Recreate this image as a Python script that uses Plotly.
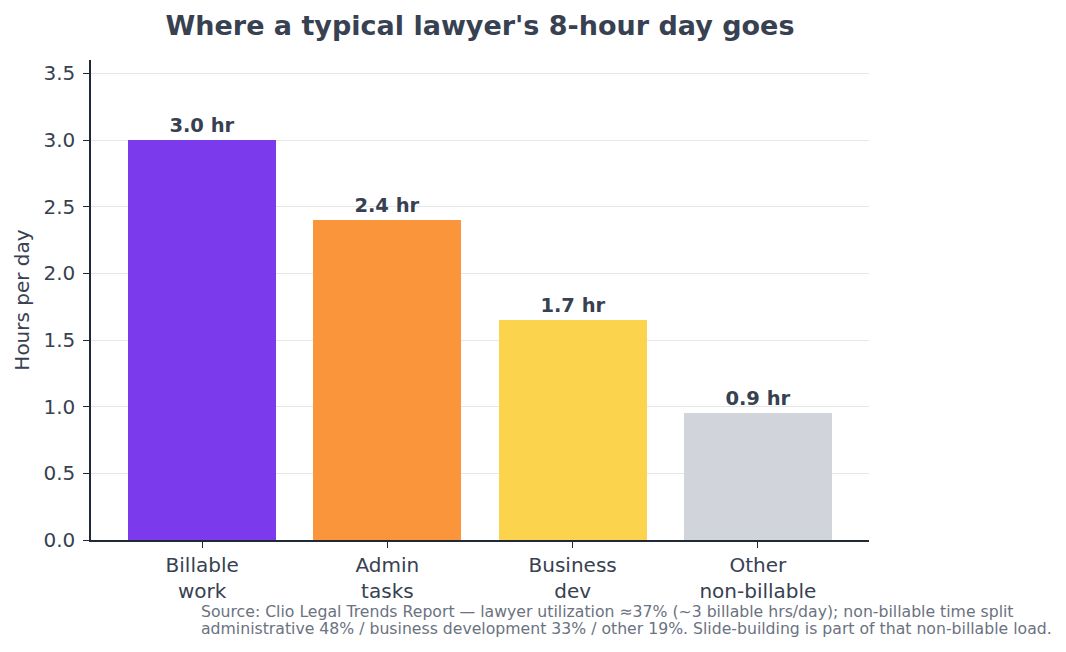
import plotly.graph_objects as go

categories = ["Billable<br>work", "Admin<br>tasks", "Business<br>dev", "Other<br>non-billable"]
hours = [3.0, 2.4, 1.65, 0.95]
bar_labels = ["3.0 hr", "2.4 hr", "1.7 hr", "0.9 hr"]
colors = ["#7c3aed", "#fb953c", "#fcd34d", "#d1d5db"]
y_ticks = [0.0, 0.5, 1.0, 1.5, 2.0, 2.5, 3.0, 3.5]
source_lines = [
    "Source: Clio Legal Trends Report — lawyer utilization ≈37% (~3 billable hrs/day); non-billable time split",
    "administrative 48% / business development 33% / other 19%. Slide-building is part of that non-billable load.",
]

FONT = "DejaVu Sans"
DARK = "#374151"
AXIS = "#1f2937"

fig = go.Figure(go.Bar(
    x=list(range(len(categories))),
    y=hours,
    width=0.8,
    marker=dict(color=colors, line=dict(width=0)),
    text=bar_labels,
    textposition="outside",
    textfont=dict(family=FONT, size=19.5, color=DARK, weight="bold"),
    cliponaxis=False,
))

fig.update_layout(
    width=1066, height=652,
    margin=dict(l=91, r=197, t=60, b=112),
    paper_bgcolor="white", plot_bgcolor="white",
    font=dict(family=FONT, color=DARK, size=20),
    title=dict(text="<b>Where a typical lawyer's 8-hour day goes</b>",
               x=(91 + 869) / 2 / 1066, xanchor="center", y=1 - 26 / 652, yanchor="middle",
               font=dict(family=FONT, size=27, color=DARK)),
    showlegend=False,
    bargap=0,
)

fig.update_xaxes(
    range=[-0.6, 3.6],
    tickvals=list(range(len(categories))), ticktext=categories,
    showline=True, linecolor=AXIS, linewidth=1.5,
    ticks="outside", ticklen=6, tickcolor=AXIS, tickwidth=1.2,
    tickfont=dict(family=FONT, size=20, color=DARK),
    showgrid=False, zeroline=False,
)
fig.update_yaxes(
    range=[0, 3.6],
    tickvals=y_ticks, ticktext=[f"{v:.1f}" for v in y_ticks],
    showline=True, linecolor=AXIS, linewidth=1.5,
    ticks="outside", ticklen=6, tickcolor=AXIS, tickwidth=1.2,
    ticklabelstandoff=4,
    tickfont=dict(family=FONT, size=20, color=DARK),
    showgrid=True, gridcolor="#e5e7eb", gridwidth=1.2,
    zeroline=False,
    title=dict(text="Hours per day", font=dict(family=FONT, size=20, color=DARK), standoff=8),
)

for i, line in enumerate(source_lines):
    fig.add_annotation(
        xref="paper", yref="paper",
        x=(199 - 91) / 778, y=-(611 + 17 * i - 540) / 480,
        xanchor="left", yanchor="middle", align="left", showarrow=False,
        text=line,
        font=dict(family=FONT, size=15.7, color="#6b7280"),
    )

fig.write_html("out.html")
